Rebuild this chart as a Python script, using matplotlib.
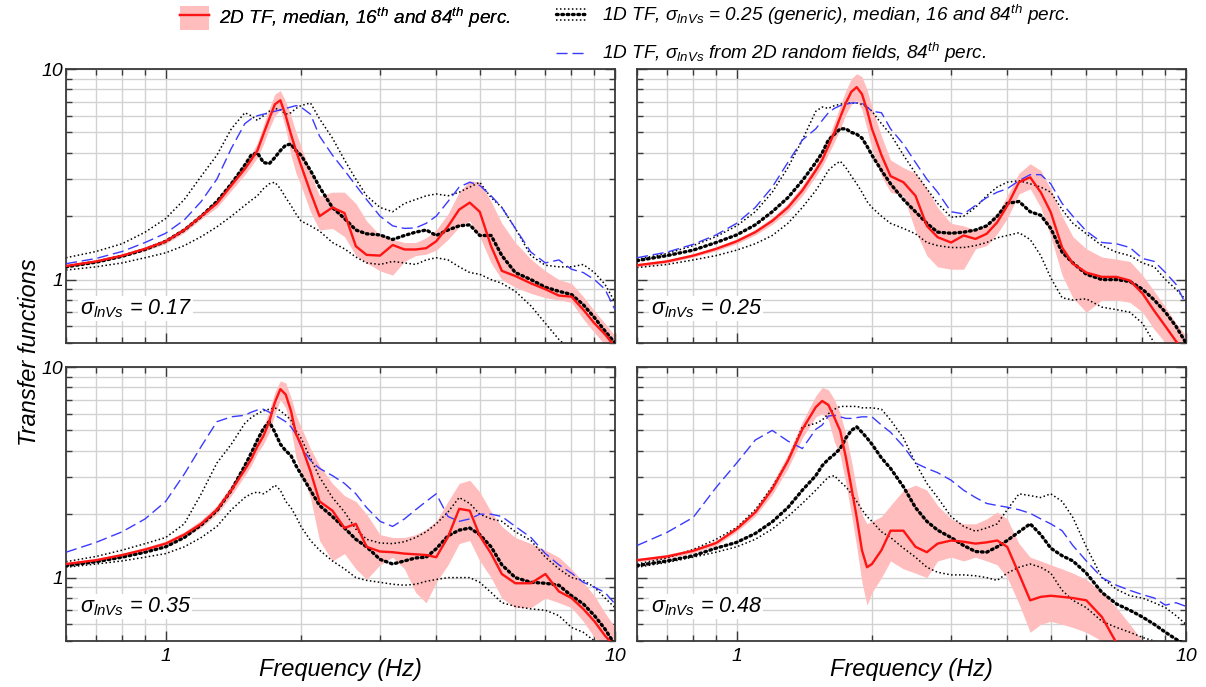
import matplotlib
matplotlib.use("Agg")
import matplotlib.pyplot as plt
from matplotlib.lines import Line2D
from matplotlib.patches import Patch
from matplotlib.legend_handler import HandlerBase, HandlerTuple
from matplotlib.ticker import FixedLocator, NullFormatter, FuncFormatter

plt.rcParams["font.family"] = ["Liberation Sans", "DejaVu Sans"]
plt.rcParams["font.style"] = "italic"
plt.rcParams["mathtext.fontset"] = "custom"
plt.rcParams["mathtext.rm"] = "Liberation Sans"
plt.rcParams["mathtext.it"] = "Liberation Sans:italic"
plt.rcParams["mathtext.bf"] = "Liberation Sans:bold"

# shared frequency grid (Hz)
freq = [0.6, 0.7, 0.8, 0.9, 1.0, 1.1, 1.2, 1.3, 1.4, 1.5,
        1.55, 1.6, 1.65, 1.7, 1.75, 1.8, 1.85, 1.9, 1.95, 2.0,
        2.1, 2.2, 2.35, 2.5, 2.65, 2.8, 3.0, 3.2, 3.4, 3.6,
        3.8, 4.0, 4.25, 4.5, 4.75, 5.0, 5.3, 5.6, 6.0, 6.5,
        7.0, 7.5, 8.0, 8.5, 9.0, 9.5, 10.0]

sigma_labels = ["0.17", "0.25", "0.35", "0.48"]

# ---- sigma = 0.17 (top left)
tl_red_med = [1.16, 1.22, 1.30, 1.40, 1.52, 1.72, 2.00, 2.30, 2.80, 3.35,
              3.70, 4.10, 4.90, 5.80, 6.80, 7.10, 6.00, 4.90, 4.10, 3.50,
              2.60, 2.00, 2.20, 2.07, 1.44, 1.31, 1.30, 1.46, 1.39, 1.39,
              1.41, 1.52, 1.79, 2.15, 2.32, 2.10, 1.44, 1.10, 1.04, 0.96,
              0.90, 0.84, 0.83, 0.72, 0.62, 0.55, 0.48]
tl_red_hi = [1.18, 1.24, 1.32, 1.43, 1.56, 1.77, 2.06, 2.40, 2.95, 3.55,
             3.95, 4.45, 5.40, 6.50, 7.60, 7.90, 7.00, 6.00, 5.00, 4.30,
             3.20, 2.50, 2.60, 2.60, 2.30, 1.90, 1.62, 1.55, 1.50, 1.50,
             1.58, 1.72, 2.05, 2.60, 2.95, 2.90, 2.35, 1.85, 1.50, 1.25,
             1.10, 1.00, 0.96, 0.83, 0.71, 0.62, 0.54]
tl_red_lo = [1.14, 1.20, 1.28, 1.37, 1.48, 1.67, 1.94, 2.20, 2.65, 3.15,
             3.45, 3.80, 4.40, 5.20, 6.00, 6.40, 5.20, 3.90, 3.20, 2.80,
             2.10, 1.72, 1.75, 1.60, 1.30, 1.20, 1.10, 1.05, 1.22, 1.30,
             1.32, 1.38, 1.55, 1.78, 1.90, 1.60, 1.20, 1.00, 0.92, 0.86,
             0.82, 0.80, 0.78, 0.65, 0.56, 0.49, 0.44]
tl_1d_med = [1.15, 1.21, 1.29, 1.39, 1.52, 1.72, 2.00, 2.35, 2.85, 3.50,
             3.90, 4.00, 3.60, 3.55, 3.80, 4.10, 4.35, 4.40, 4.10, 3.90,
             3.30, 2.75, 2.20, 1.95, 1.72, 1.65, 1.63, 1.55, 1.62, 1.68,
             1.72, 1.62, 1.72, 1.80, 1.82, 1.62, 1.62, 1.30, 1.08, 1.00,
             0.92, 0.88, 0.85, 0.76, 0.66, 0.57, 0.50]
tl_1d_hi = [1.27, 1.36, 1.48, 1.68, 1.95, 2.40, 3.10, 3.90, 5.20, 6.20,
            6.00, 5.70, 6.00, 6.30, 6.50, 6.40, 6.10, 6.20, 6.50, 6.70,
            6.90, 5.80, 4.70, 3.70, 3.00, 2.50, 2.20, 2.10, 2.30, 2.40,
            2.50, 2.55, 2.50, 2.60, 2.75, 2.90, 2.45, 2.20, 1.75, 1.30,
            1.17, 1.15, 1.15, 1.18, 1.08, 0.95, 0.78]
tl_1d_lo = [1.11, 1.15, 1.20, 1.27, 1.34, 1.45, 1.60, 1.78, 2.00, 2.25,
            2.38, 2.50, 2.70, 2.85, 2.90, 2.70, 2.45, 2.25, 2.05, 1.90,
            1.80, 1.70, 1.50, 1.40, 1.28, 1.20, 1.18, 1.22, 1.20, 1.18,
            1.24, 1.27, 1.24, 1.15, 1.08, 1.06, 1.00, 0.96, 0.88, 0.75,
            0.62, 0.52, 0.46, 0.42, 0.40, 0.38, 0.36]
tl_blue = [1.19, 1.26, 1.36, 1.50, 1.66, 1.92, 2.35, 3.00, 4.20, 5.50,
           5.80, 6.00, 6.10, 6.20, 6.30, 6.40, 6.50, 6.60, 6.70, 6.60,
           6.10, 4.80, 3.90, 3.30, 2.80, 2.40, 2.00, 1.80, 1.75, 1.76,
           1.85, 2.00, 2.35, 2.75, 2.90, 2.80, 2.50, 2.20, 1.75, 1.35,
           1.20, 1.24, 1.12, 1.08, 1.00, 0.90, 0.72]

# ---- sigma = 0.25 (top right)
tr_red_med = [1.17, 1.22, 1.30, 1.40, 1.52, 1.68, 1.90, 2.20, 2.65, 3.30,
              3.70, 4.30, 5.00, 5.90, 6.90, 7.80, 8.20, 7.60, 6.40, 5.20,
              3.90, 3.10, 2.90, 2.50, 1.80, 1.59, 1.50, 1.62, 1.56, 1.65,
              1.87, 2.24, 2.90, 3.06, 2.60, 2.09, 1.42, 1.19, 1.08, 1.03,
              1.03, 0.99, 0.86, 0.71, 0.60, 0.51, 0.45]
tr_red_hi = [1.19, 1.24, 1.32, 1.43, 1.56, 1.73, 1.97, 2.30, 2.80, 3.50,
             4.00, 4.70, 5.60, 6.70, 7.90, 9.00, 9.50, 9.20, 8.00, 6.60,
             4.80, 3.70, 3.40, 3.20, 2.70, 2.20, 1.85, 1.80, 1.72, 1.80,
             2.05, 2.50, 3.20, 3.55, 3.30, 2.70, 2.00, 1.60, 1.40, 1.28,
             1.25, 1.22, 1.05, 0.88, 0.74, 0.62, 0.54]
tr_red_lo = [1.15, 1.20, 1.28, 1.37, 1.48, 1.63, 1.83, 2.10, 2.50, 3.10,
             3.45, 3.95, 4.50, 5.20, 6.10, 6.80, 7.10, 6.40, 5.20, 4.20,
             3.10, 2.60, 2.50, 1.70, 1.30, 1.15, 1.12, 1.12, 1.40, 1.45,
             1.65, 1.95, 2.55, 2.70, 2.20, 1.60, 1.05, 0.82, 0.70, 0.80,
             0.80, 0.78, 0.70, 0.58, 0.50, 0.43, 0.38]
tr_1d_med = [1.23, 1.30, 1.38, 1.50, 1.63, 1.82, 2.10, 2.45, 2.95, 3.60,
             4.00, 4.60, 4.90, 5.20, 5.20, 5.00, 4.90, 4.70, 4.30, 3.90,
             3.30, 2.85, 2.40, 2.10, 1.85, 1.68, 1.66, 1.68, 1.72, 1.80,
             2.00, 2.30, 2.35, 2.10, 2.02, 1.75, 1.35, 1.20, 1.06, 1.00,
             1.00, 0.98, 0.90, 0.80, 0.70, 0.60, 0.50]
tr_1d_hi = [1.25, 1.33, 1.45, 1.60, 1.80, 2.10, 2.60, 3.40, 4.60, 6.30,
            6.60, 6.50, 6.70, 6.80, 6.90, 6.90, 6.90, 6.80, 6.60, 6.30,
            5.50, 4.90, 3.90, 3.20, 2.70, 2.30, 1.98, 2.00, 2.20, 2.50,
            2.75, 2.90, 2.95, 2.85, 2.75, 2.60, 2.15, 1.85, 1.65, 1.45,
            1.35, 1.30, 1.20, 1.15, 1.00, 0.90, 0.80]
tr_1d_lo = [1.14, 1.18, 1.24, 1.30, 1.38, 1.48, 1.62, 1.85, 2.20, 2.65,
            2.95, 3.30, 3.50, 3.65, 3.40, 3.10, 2.85, 2.60, 2.35, 2.20,
            2.00, 1.85, 1.75, 1.65, 1.50, 1.45, 1.42, 1.42, 1.45, 1.50,
            1.58, 1.62, 1.67, 1.55, 1.30, 1.02, 0.82, 0.80, 0.81, 0.74,
            0.72, 0.70, 0.62, 0.50, 0.45, 0.42, 0.40]
tr_blue = [1.27, 1.35, 1.47, 1.63, 1.85, 2.20, 2.75, 3.60, 4.60, 5.20,
           5.70, 6.20, 6.50, 6.70, 6.80, 6.90, 6.90, 6.90, 6.60, 6.30,
           6.20, 5.20, 4.40, 3.60, 3.00, 2.60, 2.10, 2.05, 2.25, 2.45,
           2.60, 2.70, 2.95, 3.15, 3.15, 2.85, 2.30, 2.00, 1.70, 1.50,
           1.48, 1.42, 1.26, 1.22, 1.08, 0.95, 0.76]

# ---- sigma = 0.35 (bottom left)
bl_red_med = [1.16, 1.21, 1.28, 1.36, 1.45, 1.60, 1.80, 2.10, 2.60, 3.25,
              3.65, 4.20, 4.70, 5.50, 6.80, 7.85, 7.40, 6.20, 4.80, 4.30,
              3.20, 2.30, 2.08, 1.72, 1.80, 1.40, 1.33, 1.32, 1.30, 1.29,
              1.28, 1.25, 1.56, 2.12, 2.08, 1.58, 1.30, 1.04, 0.94, 0.94,
              1.04, 0.86, 0.80, 0.71, 0.62, 0.53, 0.47]
bl_red_hi = [1.18, 1.23, 1.30, 1.39, 1.49, 1.65, 1.88, 2.20, 2.75, 3.45,
             3.90, 4.50, 5.20, 6.20, 7.60, 8.60, 8.40, 7.20, 5.90, 5.20,
             4.10, 3.40, 2.80, 2.45, 2.30, 2.00, 1.60, 1.55, 1.55, 1.60,
             1.70, 1.85, 2.30, 2.80, 2.90, 2.55, 2.05, 1.75, 1.55, 1.45,
             1.35, 1.25, 1.10, 0.95, 0.82, 0.68, 0.58]
bl_red_lo = [1.14, 1.19, 1.26, 1.33, 1.41, 1.55, 1.73, 2.00, 2.45, 3.05,
             3.40, 3.90, 4.30, 4.90, 6.00, 7.00, 6.40, 5.10, 3.70, 3.20,
             2.40, 1.50, 1.20, 1.30, 1.10, 0.98, 1.15, 1.25, 1.10, 0.85,
             0.76, 0.95, 1.15, 1.45, 1.50, 1.20, 1.00, 0.80, 0.72, 0.72,
             0.80, 0.76, 0.72, 0.62, 0.52, 0.46, 0.40]
bl_1d_med = [1.14, 1.19, 1.25, 1.32, 1.40, 1.55, 1.78, 2.08, 2.60, 3.40,
             3.90, 4.50, 5.10, 5.50, 4.90, 4.30, 4.00, 3.80, 3.40, 3.10,
             2.60, 2.20, 1.95, 1.72, 1.52, 1.40, 1.22, 1.16, 1.20, 1.24,
             1.25, 1.37, 1.58, 1.68, 1.72, 1.60, 1.40, 1.15, 1.00, 0.95,
             0.94, 0.92, 0.82, 0.75, 0.66, 0.57, 0.48]
bl_1d_hi = [1.19, 1.26, 1.35, 1.45, 1.55, 1.80, 2.50, 3.50, 4.30, 5.40,
            5.75, 6.00, 6.20, 6.30, 6.40, 6.20, 5.90, 5.60, 5.00, 4.60,
            3.70, 3.00, 2.40, 2.05, 1.70, 1.52, 1.46, 1.45, 1.48, 1.55,
            1.65, 1.80, 2.05, 2.40, 2.25, 2.00, 1.90, 1.85, 1.65, 1.50,
            1.25, 1.10, 1.00, 0.97, 0.90, 0.80, 0.72]
bl_1d_lo = [1.12, 1.16, 1.20, 1.25, 1.30, 1.40, 1.55, 1.75, 2.10, 2.40,
            2.50, 2.55, 2.50, 2.60, 2.75, 2.60, 2.30, 2.15, 1.95, 1.75,
            1.50, 1.35, 1.20, 1.10, 1.00, 0.97, 0.95, 0.93, 0.92, 0.93,
            0.96, 0.98, 1.00, 1.00, 1.00, 0.95, 0.85, 0.76, 0.73, 0.71,
            0.70, 0.66, 0.58, 0.55, 0.50, 0.46, 0.43]
bl_blue = [1.32, 1.47, 1.65, 1.90, 2.30, 3.10, 4.20, 5.50, 5.80, 5.90,
           6.10, 6.25, 6.30, 6.10, 5.90, 5.70, 5.50, 5.20, 4.80, 4.20,
           3.60, 3.30, 3.05, 2.80, 2.50, 2.15, 1.85, 1.75, 1.90, 2.10,
           2.30, 2.50, 1.95, 1.85, 1.90, 2.00, 2.00, 1.95, 1.75, 1.55,
           1.30, 1.15, 1.05, 0.95, 0.90, 0.85, 0.75]

# ---- sigma = 0.48 (bottom right)
br_red_med = [1.21, 1.26, 1.34, 1.46, 1.70, 2.04, 2.63, 3.58, 5.06, 6.45,
              6.90, 6.60, 5.75, 4.97, 3.72, 2.68, 1.93, 1.35, 1.12, 1.16,
              1.35, 1.67, 1.67, 1.40, 1.32, 1.45, 1.50, 1.48, 1.45, 1.47,
              1.50, 1.40, 1.04, 0.78, 0.81, 0.82, 0.81, 0.80, 0.78, 0.65,
              0.49, 0.42, 0.38, 0.36, 0.35, 0.34, 0.33]
br_red_hi = [1.23, 1.29, 1.37, 1.50, 1.75, 2.12, 2.80, 3.85, 5.50, 7.30,
             8.00, 7.80, 7.00, 6.00, 4.80, 3.60, 2.60, 2.00, 1.80, 1.85,
             1.95, 2.20, 2.60, 2.75, 2.60, 2.20, 1.90, 1.80, 1.80, 1.90,
             2.05, 1.90, 1.45, 1.25, 1.20, 1.15, 1.10, 1.05, 0.98, 0.85,
             0.72, 0.60, 0.50, 0.45, 0.42, 0.40, 0.38]
br_red_lo = [1.19, 1.23, 1.31, 1.42, 1.65, 1.96, 2.48, 3.30, 4.60, 5.80,
             6.00, 5.60, 4.40, 3.80, 2.80, 2.00, 1.40, 0.95, 0.74, 0.85,
             1.00, 1.20, 1.10, 1.05, 1.00, 1.20, 1.25, 1.20, 1.25, 1.20,
             1.15, 1.00, 0.75, 0.55, 0.60, 0.62, 0.60, 0.58, 0.55, 0.50,
             0.40, 0.35, 0.33, 0.32, 0.31, 0.30, 0.30]
br_1d_med = [1.14, 1.20, 1.27, 1.38, 1.47, 1.62, 1.84, 2.15, 2.60, 3.05,
             3.40, 3.65, 3.85, 4.10, 4.60, 5.00, 5.20, 4.90, 4.60, 4.30,
             3.70, 3.30, 2.70, 2.15, 1.85, 1.68, 1.55, 1.42, 1.33, 1.32,
             1.40, 1.50, 1.65, 1.80, 1.60, 1.38, 1.27, 1.20, 1.05, 0.85,
             0.75, 0.70, 0.65, 0.60, 0.55, 0.51, 0.48]
br_1d_hi = [1.16, 1.24, 1.36, 1.52, 1.73, 2.10, 2.70, 3.60, 5.20, 5.40,
            5.60, 6.00, 6.30, 6.50, 6.50, 6.50, 6.50, 6.40, 6.40, 6.40,
            6.30, 5.60, 4.60, 3.50, 2.80, 2.40, 1.95, 1.75, 1.66, 1.72,
            1.80, 2.10, 2.50, 2.45, 2.40, 2.50, 2.30, 1.93, 1.40, 1.00,
            0.88, 0.82, 0.80, 0.76, 0.72, 0.66, 0.60]
br_1d_lo = [1.12, 1.18, 1.25, 1.32, 1.40, 1.52, 1.70, 1.95, 2.25, 2.60,
            2.80, 3.00, 3.05, 2.85, 2.70, 2.50, 2.30, 2.10, 1.95, 1.85,
            1.65, 1.55, 1.38, 1.25, 1.12, 1.06, 1.03, 1.03, 1.02, 1.00,
            0.97, 1.05, 1.12, 1.16, 1.12, 1.05, 0.87, 0.78, 0.72, 0.62,
            0.58, 0.55, 0.52, 0.50, 0.48, 0.46, 0.44]
br_blue = [1.42, 1.64, 1.93, 2.68, 3.50, 4.50, 5.00, 4.45, 4.10, 5.06,
           5.30, 5.85, 5.90, 5.80, 5.70, 5.70, 5.75, 5.80, 5.80, 5.80,
           5.30, 4.90, 4.20, 3.50, 3.30, 3.15, 2.90, 2.60, 2.40, 2.25,
           2.20, 2.16, 2.10, 2.02, 1.90, 1.80, 1.67, 1.42, 1.20, 1.00,
           0.92, 0.87, 0.83, 0.80, 0.74, 0.76, 0.73]

RED = "#ff1414"
PINK = "#ffbdbd"
BLUE = "#3a3aff"
GRID = "#d2d2d2"
SPINE = "#3a3a3a"

THIN = dict(color="black", lw=1.1, linestyle=(0, (1, 1.6)))
THICK = dict(color="black", lw=2.4, linestyle=(0, (0.5, 1.1)), dash_capstyle="round")
DASH = dict(color=BLUE, lw=1.0, linestyle=(0, (8, 3.5)))


class HandlerDots(HandlerBase):
    def create_artists(self, legend, orig_handle, xdescent, ydescent, width, height, fontsize, trans):
        artists = []
        for frac, style in ((0.05, THIN), (0.5, THICK), (0.95, THIN)):
            y = -ydescent + frac * height
            artists.append(Line2D([-xdescent, -xdescent + width], [y, y], transform=trans, **style))
        return artists


def style_axes(ax, show_x, show_y):
    ax.set_xscale("log")
    ax.set_yscale("log")
    ax.set_xlim(0.6, 10)
    ax.set_ylim(0.5, 10)
    ax.xaxis.set_major_locator(FixedLocator([1, 10]))
    ax.xaxis.set_minor_locator(FixedLocator([0.6, 0.7, 0.8, 0.9, 2, 3, 4, 5, 6, 7, 8, 9]))
    ax.yaxis.set_major_locator(FixedLocator([1, 10]))
    ax.yaxis.set_minor_locator(FixedLocator([0.5, 0.6, 0.7, 0.8, 0.9, 2, 3, 4, 5, 6, 7, 8, 9]))
    fmt = FuncFormatter(lambda v, _: f"{v:g}")
    ax.xaxis.set_major_formatter(fmt)
    ax.yaxis.set_major_formatter(fmt)
    ax.xaxis.set_minor_formatter(NullFormatter())
    ax.yaxis.set_minor_formatter(NullFormatter())
    ax.grid(True, which="both", color=GRID, lw=1.0)
    ax.set_axisbelow(True)
    ax.tick_params(which="both", direction="in", top=True, right=True, color=SPINE,
                   labelsize=14, labelbottom=show_x, labelleft=show_y)
    ax.tick_params(which="major", length=7, width=1.0, pad=5)
    ax.tick_params(which="minor", length=4.5, width=1.0)
    ax.tick_params(axis="y", which="major", pad=2)
    for spine in ax.spines.values():
        spine.set_color(SPINE)
        spine.set_linewidth(1.3)


def draw_panel(ax, red_med, red_lo, red_hi, med, lo, hi, blue, sigma):
    ax.fill_between(freq, red_lo, red_hi, color=PINK, lw=0, zorder=1)
    ax.plot(freq, lo, zorder=2, **THIN)
    ax.plot(freq, hi, zorder=2, **THIN)
    ax.plot(freq, med, zorder=3, **THICK)
    ax.plot(freq, blue, zorder=4, **DASH)
    ax.plot(freq, red_med, color=RED, lw=1.7, zorder=5)
    ax.text(0.025, 0.127, r"$\mathrm{\sigma}_{lnVs}$ = " + sigma, transform=ax.transAxes,
            fontsize=15.5, ha="left", va="center", zorder=6,
            bbox=dict(fc="white", ec="none", pad=1.0))


fig = plt.figure(figsize=(12.06, 6.87), dpi=100)
W, H = 1206, 687
col_left = [66 / W, 637 / W]
col_width = 549 / W
row_bottom = [1 - 343 / H, 1 - 641 / H]
row_height = 274 / H

series = [
    (tl_red_med, tl_red_lo, tl_red_hi, tl_1d_med, tl_1d_lo, tl_1d_hi, tl_blue),
    (tr_red_med, tr_red_lo, tr_red_hi, tr_1d_med, tr_1d_lo, tr_1d_hi, tr_blue),
    (bl_red_med, bl_red_lo, bl_red_hi, bl_1d_med, bl_1d_lo, bl_1d_hi, bl_blue),
    (br_red_med, br_red_lo, br_red_hi, br_1d_med, br_1d_lo, br_1d_hi, br_blue),
]

for idx, data in enumerate(series):
    row, col = divmod(idx, 2)
    ax = fig.add_axes([col_left[col], row_bottom[row], col_width, row_height])
    style_axes(ax, show_x=(row == 1), show_y=(col == 0))
    draw_panel(ax, *data, sigma_labels[idx])
    if row == 1:
        ax.text(0.5, -0.103, "Frequency (Hz)", transform=ax.transAxes,
                ha="center", va="center", fontsize=17)

fig.text(30 / W, 1 - 352 / H, "Transfer functions", rotation=90,
         ha="center", va="center", fontsize=17)

# legends
red_handle = (Patch(facecolor=PINK, edgecolor="none"), Line2D([], [], color=RED, lw=1.7))
leg1 = fig.legend([red_handle], [r"2D TF, median, 16$^{th}$ and 84$^{th}$ perc."],
                  handler_map={tuple: HandlerTuple(ndivide=1, pad=0)},
                  loc="center left", bbox_to_anchor=(180 / W, 1 - 18 / H),
                  frameon=False, fontsize=13.7, borderpad=0, borderaxespad=0,
                  handlelength=1.5, handleheight=1.6, handletextpad=0.55)
fig.add_artist(leg1)

dots_handle = Line2D([], [], color="black")
blue_handle = Line2D([], [], **DASH)
fig.legend([dots_handle, blue_handle],
           [r"1D TF, $\mathrm{\sigma}_{lnVs}$ = 0.25 (generic), median, 16 and 84$^{th}$ perc.",
            r"1D TF, $\mathrm{\sigma}_{lnVs}$ from 2D random fields, 84$^{th}$ perc."],
           handler_map={dots_handle: HandlerDots()},
           loc="center left", bbox_to_anchor=(556 / W, 1 - 34 / H),
           frameon=False, fontsize=13.7, borderpad=0, borderaxespad=0,
           handlelength=1.6, handleheight=0.6, handletextpad=0.8, labelspacing=0.75)

fig.savefig("out.png", dpi=100)
